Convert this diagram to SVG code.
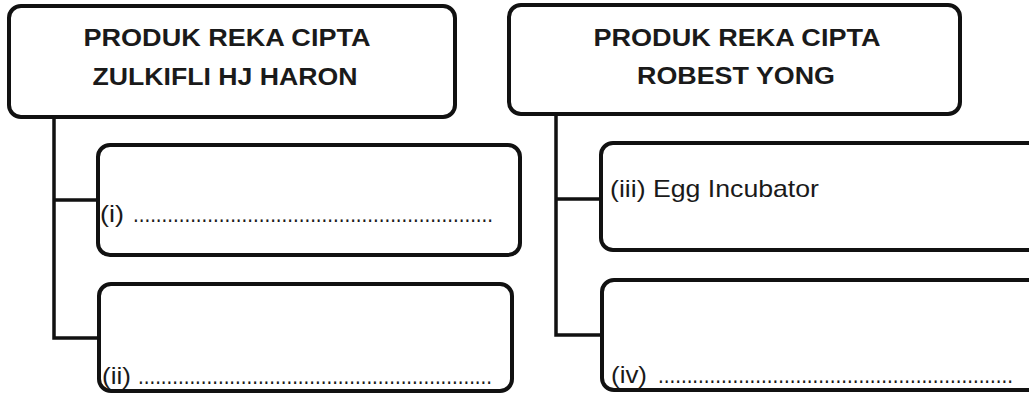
<svg xmlns="http://www.w3.org/2000/svg" width="1029" height="394" viewBox="0 0 1029 394">
<style>
.box{fill:#fff;stroke:#111;stroke-width:4}
.con{fill:none;stroke:#111;stroke-width:3.5}
.ttl{font-family:"Liberation Sans",Arial,sans-serif;font-size:24px;font-weight:bold;fill:#1a1a1a;text-anchor:middle}
.lbl{font-family:"Liberation Sans",Arial,sans-serif;font-size:24px;fill:#1a1a1a}
</style>
<rect width="1029" height="394" fill="#fff"/>
<g id="connectors">
<path class="con" d="M54 117 V338 H98 M54 200 H98"/>
<path class="con" d="M556 115 V335 H601 M556 199 H601"/>
</g>
<g id="node-zulkifli">
<rect class="box" x="9" y="6" width="446" height="111" rx="12"/>
<text class="ttl" x="227" y="46" textLength="287" lengthAdjust="spacingAndGlyphs">PRODUK REKA CIPTA</text>
<text class="ttl" x="225" y="85" textLength="265" lengthAdjust="spacingAndGlyphs">ZULKIFLI HJ HARON</text>
</g>
<g id="node-robest">
<rect class="box" x="509" y="5" width="451" height="109" rx="12"/>
<text class="ttl" x="737" y="46" textLength="287" lengthAdjust="spacingAndGlyphs">PRODUK REKA CIPTA</text>
<text class="ttl" x="736" y="84" textLength="198" lengthAdjust="spacingAndGlyphs">ROBEST YONG</text>
</g>
<g id="node-i">
<rect class="box" x="98" y="145" width="422" height="110" rx="12"/>
<text class="lbl" x="100" y="222"><tspan textLength="24" lengthAdjust="spacingAndGlyphs">(i)</tspan><tspan x="133" textLength="360" lengthAdjust="spacingAndGlyphs">...............................................................</tspan></text>
</g>
<g id="node-ii">
<rect class="box" x="99" y="284" width="413" height="107" rx="12"/>
<text class="lbl" x="102" y="384"><tspan textLength="29" lengthAdjust="spacingAndGlyphs">(ii)</tspan><tspan x="138" textLength="354" lengthAdjust="spacingAndGlyphs">..............................................................</tspan></text>
</g>
<g id="node-iii">
<rect class="box" x="601" y="143" width="440" height="107" rx="12"/>
<text class="lbl" x="610" y="197" textLength="209" lengthAdjust="spacingAndGlyphs">(iii) Egg Incubator</text>
</g>
<g id="node-iv">
<rect class="box" x="602" y="280" width="440" height="110" rx="12"/>
<text class="lbl" x="611" y="383"><tspan textLength="36" lengthAdjust="spacingAndGlyphs">(iv)</tspan><tspan x="658" textLength="355" lengthAdjust="spacingAndGlyphs">..............................................................</tspan></text>
</g>
</svg>
